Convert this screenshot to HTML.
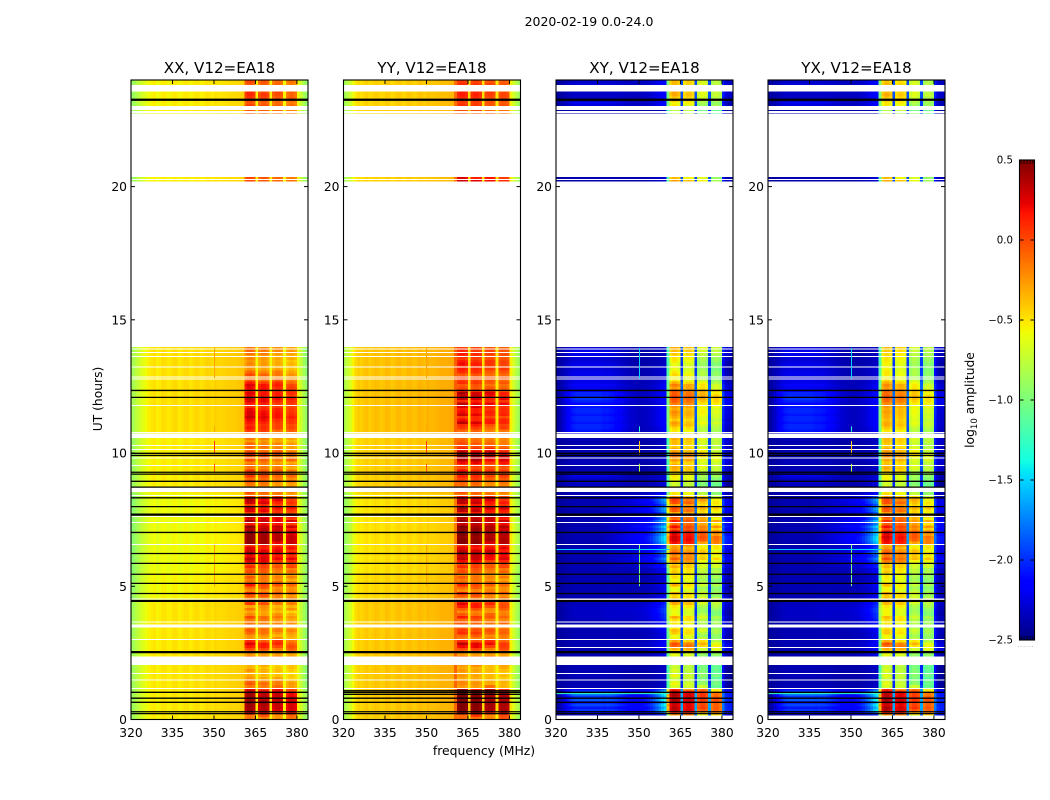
<!DOCTYPE html>
<html lang="en">
<head>
<meta charset="utf-8">
<title>2020-02-19 0.0-24.0</title>
<style>
html,body{margin:0;padding:0;background:#fff;width:1050px;height:800px;overflow:hidden}
svg{display:block}
text{font-family:"DejaVu Sans","Liberation Sans",sans-serif;fill:#000}
</style>
</head>
<body>
<svg id="figure" xmlns="http://www.w3.org/2000/svg" width="1050" height="800" viewBox="0 0 1050 800">
<text x="589" y="26" font-size="12.5" text-anchor="middle">2020-02-19 0.0-24.0</text>
<text x="484" y="755" font-size="12.4" text-anchor="middle">frequency (MHz)</text>
<text transform="translate(102 399) rotate(-90)" font-size="12.3" text-anchor="middle">UT (hours)</text>
<text transform="translate(974 400) rotate(-90)" font-size="12.3" text-anchor="middle">log<tspan font-size="8.6" dy="3">10</tspan><tspan dy="-3"> amplitude</tspan></text>
<g id="panels"></g>
<g id="colorbar"></g>
</svg>
<script>
// ---------- axis data ----------
const panelTitles = ["XX, V12=EA18", "YY, V12=EA18", "XY, V12=EA18", "YX, V12=EA18"];
const freqTicks = [320, 335, 350, 365, 380];
const hourTicks = [0, 5, 10, 15, 20];
const colorTicks = [0.5, 0.0, -0.5, -1.0, -1.5, -2.0, -2.5];
const colorTickLabels = ["0.5", "0.0", "\u22120.5", "\u22121.0", "\u22121.5", "\u22122.0", "\u22122.5"];

// ---------- per-channel log10 amplitude (320..383 MHz, 1 MHz channels) ----------
const spectrumXX = [
 -.90,-.85,-.78,-.72,-.66,-.62,-.58,-.55,
 -.53,-.58,-.56,-.52,-.53,-.56,-.55,-.51,
 -.52,-.56,-.54,-.51,-.51,-.55,-.53,-.50,
 -.51,-.54,-.52,-.49,-.50,-.52,-.48,-.50,
 -.50,-.49,-.48,-.47,-.47,-.47,-.46,-.45,
 -.44,-.10,-.03,-.03,-.08,-.55,-.15,-.08,
 -.08,-.13,-.55,-.20,-.13,-.13,-.18,-.56,
 -.25,-.18,-.18,-.23,-.58,-.72,-.85,-.92];
const spectrumYY = [
 -.85,-.78,-.70,-.60,-.50,-.46,-.48,-.45,
 -.43,-.47,-.45,-.42,-.43,-.46,-.45,-.41,
 -.42,-.46,-.44,-.41,-.41,-.45,-.43,-.40,
 -.41,-.44,-.42,-.39,-.40,-.42,-.38,-.40,
 -.40,-.39,-.38,-.37,-.37,-.37,-.36,-.35,
 -.12,-.03,.01,.01,-.04,-.48,-.06,-.02,
 -.02,-.07,-.50,-.12,-.09,-.09,-.13,-.52,
 -.15,-.11,-.11,-.15,-.55,-.68,-.80,-.88];
const spectrumCross = [
 -2.42,-2.42,-2.42,-2.42,-2.42,-2.42,-2.42,-2.42,
 -2.42,-2.42,-2.42,-2.42,-2.42,-2.42,-2.42,-2.42,
 -2.42,-2.42,-2.42,-2.42,-2.42,-2.42,-2.42,-2.42,
 -2.42,-2.42,-2.42,-2.42,-2.42,-2.42,-2.42,-2.42,
 -2.42,-2.42,-2.42,-2.42,-2.42,-2.42,-2.42,-2.42,
 -1.30,-.68,-.60,-.60,-.68,-2.0,-.74,-.68,
 -.68,-.74,-2.0,-.98,-.90,-.90,-.98,-2.0,
 -1.08,-1.0,-1.0,-1.08,-2.15,-2.38,-2.42,-2.42];
const westShape = [
 0,.1,.3,.5,.7,.85,.95,1,
 1,1,1,1,1,1,1,1,
 .95,.9,.9,.85,.8,.7,.6,.5,
 .4,.3,.2,.15,.1,.05,0,0,
 0,0,0,0,0,0,0,0,
 0,0,0,0,0,0,0,0,
 0,0,0,0,0,0,0,0,
 0,0,0,0,0,0,0,0];
const eastShape = [
 0,0,0,0,0,0,0,0,
 0,0,0,0,0,0,0,0,
 .02,.03,.05,.06,.08,.1,.12,.14,
 .16,.18,.2,.22,.24,.26,.28,.3,
 .33,.38,.44,.52,.62,.74,.88,1,
 1,0,0,0,0,0,0,0,
 0,0,0,0,0,0,0,0,
 0,0,0,0,0,0,0,0];
const bandChannels = [41,42,43,44,46,47,48,49,51,52,53,54,56,57,58,59];

// ---------- per-row band level, 0.0 .. 13.9 h in 0.1 h rows ----------
const levelXX = [
 -.1,-.1,.35,.45,.45,.45,.5,.45,.45,.45,
 .4,.3,-.1,0,-.05,-.2,-.25,-.3,-.2,-.3,
 -.3,0,0,0,-.2,-.15,.05,.2,.3,.15,
 -.2,-.2,-.05,0,-.1,0,-.1,-.1,.05,-.15,
 -.25,-.1,-.25,.1,.05,-.1,0,.15,-.15,-.05,
 .2,-.05,-.1,0,-.15,.05,0,.15,.05,.3,
 .4,.25,.45,.35,.3,.1,.5,.5,.5,.5,
 .5,.4,.5,.2,.45,.3,.45,.1,.3,.35,
 .1,.35,.4,.1,-.1,.05,-.1,-.15,-.1,.05,
 -.05,.1,.05,.1,-.1,-.05,-.15,.05,-.05,.2,
 .05,-.1,-.05,-.05,-.2,-.1,-.1,-.1,.1,.2,
 .15,.2,.25,.35,.3,.3,.25,.15,.2,.3,
 .35,.25,.3,.2,.25,.3,.2,0,-.1,.05,
 -.05,-.2,-.2,-.15,-.2,-.15,-.2,-.1,-.05,-.1];
const levelYY = [
 -.1,-.1,.45,.5,.5,.5,.5,.5,.5,.5,
 .5,.4,-.25,-.2,-.2,-.3,-.25,-.3,-.25,-.3,
 -.25,0,0,0,-.25,-.2,0,.2,.35,.1,
 -.15,-.1,.1,.05,-.05,0,-.05,-.1,.15,-.05,
 -.2,-.05,.15,.25,.05,-.15,-.05,.15,-.2,-.1,
 .1,-.1,-.15,-.05,-.2,0,-.05,.1,0,.2,
 .35,.3,.45,.35,.25,.1,.5,.5,.45,.5,
 .5,.45,.5,.3,.45,.35,.4,.1,.35,.4,
 .1,.35,.35,.15,-.15,0,-.1,-.15,-.1,0,
 .05,.15,.1,.2,0,.1,.2,.35,.45,.4,
 .35,.15,.05,0,-.05,-.1,-.1,-.05,-.1,.05,
 .1,.35,.2,.05,.3,.2,.15,.25,.35,.1,
 .3,.3,.4,.15,0,-.05,.1,.05,.05,-.05,
 .1,.15,.1,.2,.15,.05,.1,.15,.1,.05];
const levelXY = [
 .3,.3,.7,.95,.95,.9,.95,1,.95,1,
 .9,.7,-.05,.05,-.05,-.1,.05,-.1,-.05,-.1,
 -.1,0,0,0,0,.05,.3,.55,.6,.35,
 .05,0,.2,.25,.1,.1,.1,.15,.3,.05,
 0,.05,.1,.3,.4,.2,.15,.3,0,.05,
 .3,.05,.05,.15,.1,.2,.15,.3,.2,.4,
 .55,.4,.6,.45,.35,.3,.8,.9,.9,.85,
 .9,.6,.8,.5,.75,.5,.7,.3,.55,.6,
 .35,.6,.65,.35,.1,.1,.1,-.05,-.1,0,
 .05,.1,.05,.25,.3,.3,.2,.35,.45,.5,
 .35,.3,.2,.25,.25,.3,.3,.2,.1,.15,
 .3,.35,.2,.3,.35,.4,.3,.35,.45,.55,
 .6,.6,.55,.55,.35,.45,.3,.1,.05,.15,
 .1,0,.05,0,.1,.1,.15,.2,.25,.3];
const levelYX = [
 .3,.3,.75,.95,1,.9,.95,1,.95,.95,
 .9,.7,-.05,0,-.05,-.1,0,-.1,-.05,-.1,
 -.1,0,0,0,0,.1,.3,.5,.6,.3,
 .05,.05,.2,.2,.1,.15,.1,.15,.25,.05,
 .05,.05,.1,.25,.35,.2,.2,.3,.05,.05,
 .25,.05,.05,.1,.1,.2,.15,.25,.2,.45,
 .6,.45,.6,.5,.35,.3,.8,.85,.9,.85,
 .85,.6,.8,.55,.7,.5,.7,.35,.55,.6,
 .4,.6,.6,.35,.15,.1,.1,0,-.1,0,
 .05,.05,.05,.2,.3,.25,.2,.3,.4,.45,
 .35,.3,.2,.2,.25,.25,.3,.2,.1,.2,
 .3,.3,.25,.3,.3,.35,.3,.35,.4,.5,
 .55,.55,.5,.5,.35,.4,.3,.15,.05,.1,
 .1,.05,.05,.05,.1,.1,.15,.15,.2,.25];
const crossWest = [
 .1,.1,.3,.45,.35,.5,.4,.55,.45,.6,
 .5,.3,.05,.05,.05,.05,.08,.05,.05,.05,
 .05,0,0,0,.05,.05,.05,.05,.05,.05,
 .05,.05,.05,.05,.05,.05,.05,.08,.1,.1,
 .1,.1,.1,.08,.08,.05,.05,.05,.05,.05,
 .05,.05,.05,.05,.05,.05,.05,.05,.05,.05,
 .05,.05,.05,.05,.05,.05,.05,.05,.05,.05,
 .05,.05,.05,.05,.05,.05,.05,.05,.05,.05,
 .05,.05,.05,.05,.05,.05,.08,.1,.1,.15,
 .1,.2,.1,.05,.05,.05,.08,.05,.05,.05,
 .05,.05,.05,.05,.05,.05,.05,.2,.35,.4,
 .4,.35,.4,.4,.35,.4,.4,.35,.3,.4,
 .45,.4,.4,.3,.2,.25,.2,.2,.15,.2,
 .2,.15,.2,.2,.15,.15,.2,.2,.2,.15];
const crossEast = [
 .2,.3,.7,1,.9,1.05,.9,1.1,.9,1,
 .9,.6,.1,.1,.1,.1,.12,.1,.1,.1,
 .1,0,0,0,.2,.2,.25,.3,.3,.25,
 .2,.2,.2,.25,.3,.3,.3,.4,.45,.45,
 .5,.5,.45,.4,.4,.3,.2,.2,.2,.2,
 .25,.2,.15,.15,.2,.25,.25,.4,.35,.6,
 .7,.55,.75,.6,.5,.45,.9,1,1,.9,
 .95,.8,.95,.7,.9,.7,.9,.6,.75,.8,
 .55,.7,.8,.55,.35,.2,.15,.15,.15,.2,
 .15,.15,.15,.1,.1,.1,.1,.15,.1,.1,
 .1,.1,.1,.1,.1,.1,.1,.2,.25,.25,
 .3,.3,.3,.3,.3,.3,.3,.3,.25,.3,
 .3,.3,.3,.25,.25,.25,.2,.2,.15,.15,
 .15,.15,.15,.1,.1,.1,.1,.1,.1,.1];

// ---------- sparse rows above the long gap ----------
const upperRowHours = [20.2,20.3,22.7,22.8,23.0,23.1,23.2,23.3,23.4,23.5,23.8,23.9];
const upperLevelXX = [.05,.05,.05,0,.1,0,.05,.1,.15,.15,0,.05];
const upperLevelYY = [.3,.25,0,0,.1,.05,.1,.1,.15,.15,.1,.05];
const upperLevelXY = [.35,.25,-.1,-.15,.1,.05,.3,.2,.3,.3,.25,.25];
const upperLevelYX = [.3,.25,-.1,-.15,.1,.1,.25,.2,.3,.25,.25,.2];
const upperWest = [.05,.05,.05,.05,.15,.2,.05,.1,.1,.1,.15,.1];
const upperEast = [.15,.15,.1,.1,.3,.3,.2,.3,.3,.3,.3,.3];

// ---------- how much each sub-band borrows from a neighbouring row's level ----------
const bandRowOffset = [0, 1, -1, 2];

// ---------- slow drift in the low-frequency part of the parallel hands ----------
const driftFromHours = [0, 1.2, 4.5, 5.5, 8.5, 10.8, 20];
const driftToHours = [1.2, 4.5, 5.5, 8.5, 10.8, 14, 24];
const driftValues = [.02, .03, -.02, -.05, .01, .05, 0];

// ---------- flagged / overplotted time ranges (hours) ----------
const whiteFrom = [23.56, 22.87, 22.77, 20.36, 13.98, 10.57, 8.54, 3.45, 2.04];
const whiteTo = [23.82, 23.03, 22.83, 22.74, 20.2, 10.74, 8.70, 3.57, 2.36];
const whiteLines = [13.9,13.78,13.63,13.22,12.86,12.77,11.79,10.78,10.29,10.14,9.81,9.54,8.41,7.62,7.4,6.57,4.53,3.65,3.0,1.73,1.49,1.17,20.27];
const crossWhiteFrom = [0];
const crossWhiteTo = [.15];
const crossWhiteLines = [2.7, 4.48];
const blackLines = [12.35,12.09,9.99,9.91,9.28,9.21,8.94,8.72,8.32,7.99,7.02,6.23,5.86,5.45,5.11,4.73,1.02,.8,.645,.29,.22];
const thickBlackLines = [23.26, 7.69, 4.45, 2.53];
const yyBlackLines = [1.08, .945];

// ---------- narrow interference features ----------
const rfiFromHours = [9.3, 9.95, 5.0, 10.8, 12.8];
const rfiToHours = [9.6, 10.45, 6.55, 11.0, 13.95];
const rfiParallel = [-.05, .05, -.3, -.3, -.3];
const rfiCross = [-.8, -.4, -1.0, -1.3, -1.5];
const lineHours = [6.38, .97];
const lineFromMHz = [320, 320];
const lineToMHz = [361, 361];
const lineCross = [-1.5, -1.25];

// ---------- scales ----------
const SVG_NS = "http://www.w3.org/2000/svg";
const panelLeft = [131, 343.5, 556, 768];
const panelWidth = 177;
const plotTop = 80;
const plotBottom = 719.5;
const xScale = (left, mhz) => left + (mhz - 320) * panelWidth / 64;
const yScale = hour => plotBottom - hour * (plotBottom - plotTop) / 24;

function jetPart(n, points) {
  for (let i = 1; i < points.length; i++) {
    if (n <= points[i][0]) {
      const a = points[i - 1], b = points[i];
      return a[1] + (b[1] - a[1]) * (n - a[0]) / (b[0] - a[0]);
    }
  }
  return points[points.length - 1][1];
}
function jetColor(v) {
  const n = Math.max(0, Math.min(1, (v + 2.5) / 3));
  const r = jetPart(n, [[0,0],[.35,0],[.66,1],[.89,1],[1,.5]]);
  const g = jetPart(n, [[0,0],[.125,0],[.375,1],[.64,1],[.91,0],[1,0]]);
  const b = jetPart(n, [[0,.5],[.11,1],[.34,1],[.65,0],[1,0]]);
  return "rgb(" + Math.round(r * 255) + "," + Math.round(g * 255) + "," + Math.round(b * 255) + ")";
}
function make(parent, tag, attrs) {
  const el = document.createElementNS(SVG_NS, tag);
  for (const k in attrs) el.setAttribute(k, attrs[k]);
  parent.appendChild(el);
  return el;
}
function driftAt(hour) {
  for (let i = 0; i < driftValues.length; i++) {
    if (hour >= driftFromHours[i] && hour < driftToHours[i]) return driftValues[i];
  }
  return 0;
}

const inBand = new Array(64).fill(false);
bandChannels.forEach(c => { inBand[c] = true; });

function cellValue(isCross, spectrum, ch, hour, level, west, east) {
  if (inBand[ch]) return spectrum[ch] + level;
  if (isCross) {
    if (ch >= 41) return spectrum[ch] + 0.4 * level;
    return spectrum[ch] + west * westShape[ch] + east * eastShape[ch];
  }
  if (ch >= 41) return spectrum[ch] + 0.1 * level;
  return spectrum[ch] + driftAt(hour);
}
function bandIndex(ch) {
  return Math.max(0, Math.min(3, Math.floor((ch - 41) / 5)));
}

const panelsRoot = document.getElementById("panels");

function drawRow(cells, left, isCross, spectrum, hour, levels, r, west, east) {
  const yTop = yScale(hour + 0.1);
  const yBot = yScale(hour);
  for (let ch = 0; ch < 64; ch++) {
    const x0 = xScale(left, 320 + ch);
    const x1 = xScale(left, 321 + ch);
    const off = bandRowOffset[bandIndex(ch)];
    const other = levels[Math.max(0, Math.min(levels.length - 1, r + off))];
    const level = 0.65 * levels[r] + 0.35 * other;
    const el = document.createElementNS(SVG_NS, "rect");
    el.setAttribute("x", x0.toFixed(2));
    el.setAttribute("y", yTop.toFixed(2));
    el.setAttribute("width", (x1 - x0 + .3).toFixed(2));
    el.setAttribute("height", (yBot - yTop + .3).toFixed(2));
    el.setAttribute("fill", jetColor(cellValue(isCross, spectrum, ch, hour, level, west, east)));
    
    
    cells.appendChild(el);
  }
}

function hLine(parent, left, hour, color, width) {
  const el = make(parent, "line", {
    x1: left, x2: left + panelWidth,
    y1: yScale(hour).toFixed(2), y2: yScale(hour).toFixed(2),
    stroke: color, "stroke-width": width
  });
  return el;
}

const panelSpectra = [spectrumXX, spectrumYY, spectrumCross, spectrumCross];
const panelLevels = [levelXX, levelYY, levelXY, levelYX];
const panelUpper = [upperLevelXX, upperLevelYY, upperLevelXY, upperLevelYX];

panelTitles.forEach((title, p) => {
  const left = panelLeft[p];
  const isCross = p >= 2;
  const g = make(panelsRoot, "g", {});
  
  

  const cells = make(g, "g", { "shape-rendering": "crispEdges" });
  
  

  panelLevels[p].forEach((level, r) => {
    drawRow(cells, left, isCross, panelSpectra[p], r / 10, panelLevels[p], r, crossWest[r], crossEast[r]);
  });
  upperRowHours.forEach((hour, r) => {
    drawRow(cells, left, isCross, panelSpectra[p], hour, panelUpper[p], r, upperWest[r], upperEast[r]);
  });

  const flags = make(g, "g", { "shape-rendering": "crispEdges" });
  
  
  const fromList = isCross ? whiteFrom.concat(crossWhiteFrom) : whiteFrom;
  const toList = isCross ? whiteTo.concat(crossWhiteTo) : whiteTo;
  fromList.forEach((from, i) => {
    const yT = yScale(toList[i]);
    const el = make(flags, "rect", { x: left, y: yT.toFixed(2), width: panelWidth, height: (yScale(from) - yT).toFixed(2), fill: "#fff" });
    
    
  });
  (isCross ? whiteLines.concat(crossWhiteLines) : whiteLines).forEach(hour => {
    const el = hLine(flags, left, hour, "#fff", 1);
    
    
  });

  rfiFromHours.forEach((from, i) => {
    const x = Math.round(xScale(left, 350)) + .5;
    const el = make(g, "line", {
      x1: x, x2: x, y1: yScale(from).toFixed(2), y2: yScale(rfiToHours[i]).toFixed(2),
      stroke: jetColor(isCross ? rfiCross[i] : rfiParallel[i]), "stroke-width": 1
    });
    
    
  });
  if (isCross) {
    lineHours.forEach((hour, i) => {
      const el = make(g, "line", {
        x1: xScale(left, lineFromMHz[i]), x2: xScale(left, lineToMHz[i]),
        y1: yScale(hour).toFixed(2), y2: yScale(hour).toFixed(2),
        stroke: jetColor(lineCross[i]), "stroke-width": 1
      });
      
      
    });
  }

  blackLines.forEach(hour => {
    const el = hLine(g, left, hour, "#000", 1.3);
    
    
  });
  thickBlackLines.forEach(hour => {
    const el = hLine(g, left, hour, "#000", 2.2);
    
    
  });
  if (p === 1) {
    yyBlackLines.forEach(hour => {
      const el = hLine(g, left, hour, "#000", 1.3);
      
      
    });
  }

  const frame = make(g, "rect", { x: left, y: plotTop, width: panelWidth, height: plotBottom - plotTop, fill: "none", stroke: "#000", "stroke-width": 1.1 });
  
  

  const titleEl = make(g, "text", { x: left + panelWidth / 2, y: 73, "font-size": 15.1, "text-anchor": "middle" });
  titleEl.textContent = title;
  
  

  freqTicks.forEach(f => {
    const x = xScale(left, f);
    [[plotBottom, plotBottom - 4], [plotTop, plotTop + 4]].forEach(ends => {
      const t = make(g, "line", { x1: x, x2: x, y1: ends[0], y2: ends[1], stroke: "#000", "stroke-width": 1 });
      
      
    });
    const lab = make(g, "text", { x: x, y: 737, "font-size": 12.3, "text-anchor": "middle" });
    lab.textContent = String(f);
    
    
  });
  hourTicks.forEach(h => {
    const y = yScale(h);
    [[left, left + 4], [left + panelWidth, left + panelWidth - 4]].forEach(ends => {
      const t = make(g, "line", { x1: ends[0], x2: ends[1], y1: y, y2: y, stroke: "#000", "stroke-width": 1 });
      
      
    });
    const lab = make(g, "text", { x: left - 4, y: y + 4.5, "font-size": 12.3, "text-anchor": "end" });
    lab.textContent = String(h);
    
    
  });
});

// ---------- colorbar ----------
const cbar = document.getElementById("colorbar");
const cbLeft = 1019.5, cbWidth = 15, cbTop = 160, cbBottom = 640;
const cbY = v => cbBottom - (v + 2.5) / 3 * (cbBottom - cbTop);
const cbSteps = 240;
for (let i = 0; i < cbSteps; i++) {
  const vLow = -2.5 + 3 * i / cbSteps;
  const yHigh = cbY(vLow + 3 / cbSteps);
  const el = make(cbar, "rect", { x: cbLeft, y: yHigh.toFixed(2), width: cbWidth, height: ((cbBottom - cbTop) / cbSteps + .3).toFixed(2), fill: jetColor(vLow + 1.5 / cbSteps), "shape-rendering": "crispEdges" });
  
  
}
const cbFrame = make(cbar, "rect", { x: cbLeft, y: cbTop, width: cbWidth, height: cbBottom - cbTop, fill: "none", stroke: "#000", "stroke-width": 1.1 });


colorTicks.forEach((v, i) => {
  const y = cbY(v);
  [[cbLeft, cbLeft + 4], [cbLeft + cbWidth, cbLeft + cbWidth - 4]].forEach(ends => {
    const t = make(cbar, "line", { x1: ends[0], x2: ends[1], y1: y, y2: y, stroke: "#000", "stroke-width": 1 });
    
    
  });
  const lab = make(cbar, "text", { x: 1013, y: y + 3.6, "font-size": 10.2, "text-anchor": "end" });
  lab.textContent = colorTickLabels[i];
  
  
});
[0.1, 0.3, 0.5, 0.7, 0.9].forEach(frac => {
  const x = cbLeft + cbWidth * frac;
  [[cbTop, cbTop + 4], [cbBottom, cbBottom - 4]].forEach(ends => {
    const t = make(cbar, "line", { x1: x, x2: x, y1: ends[0], y2: ends[1], stroke: "#000", "stroke-width": .8 });
    
    
  });
});
const dots = make(cbar, "text", { x: 1026, y: 647, "font-size": 6, "text-anchor": "middle", "letter-spacing": "1", style: "fill:#888" });
dots.textContent = "......";


</script>
</body>
</html>
